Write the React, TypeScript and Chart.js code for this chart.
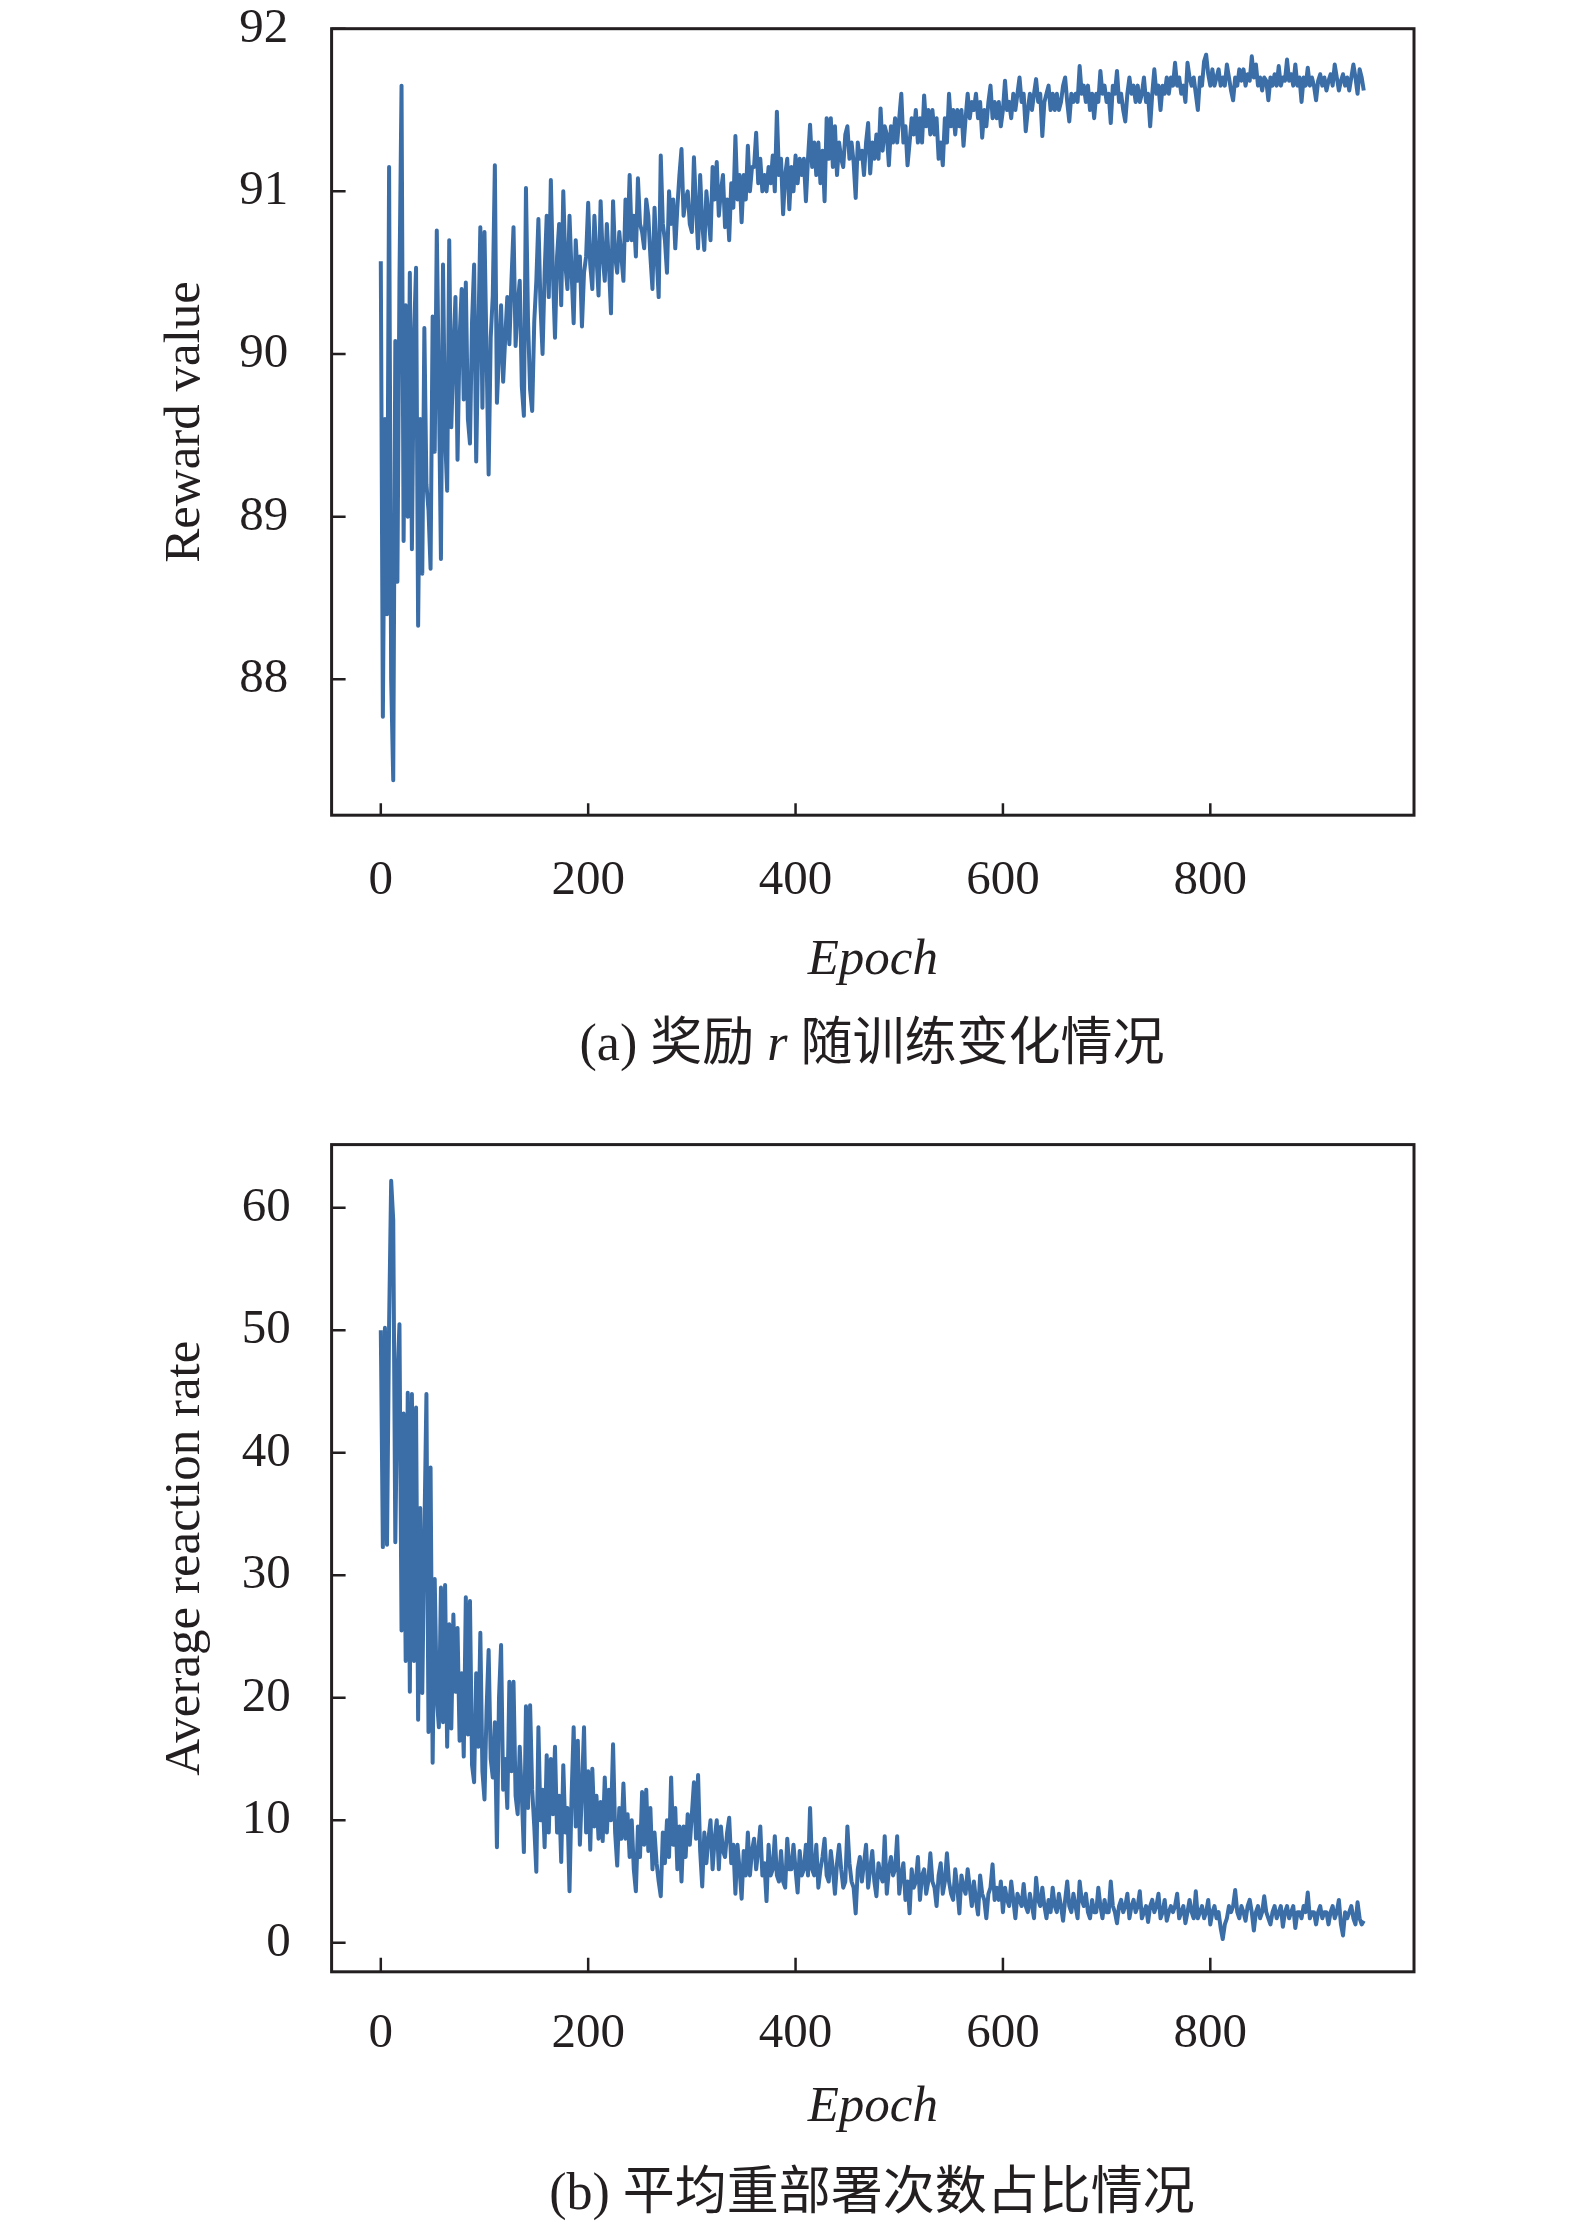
import React, { useEffect, useRef } from "react";
import { Chart, registerables } from "chart.js";

Chart.register(...registerables);

// ---------- data ----------
const EPOCH_STEP = 2; // one sampled value every 2 epochs (0 .. 948)

const epochTicks = [0, 200, 400, 600, 800];
const rewardTicks = [88, 89, 90, 91, 92];
const rateTicks = [0, 10, 20, 30, 40, 50, 60];

// (a) reward value, sampled every 2 epochs (each row = 20 epochs)
const rewardValues = [
  90.57, 87.77, 89.6, 88.4, 91.15, 88.0, 87.38, 90.08, 88.6, 90.45,
  91.65, 88.85, 90.3, 89.0, 90.5, 88.8, 90.1, 90.53, 88.33, 89.6,
  88.65, 90.16, 89.2, 89.04, 88.68, 90.23, 89.4, 90.76, 89.8, 88.74,
  90.55, 89.5, 89.16, 90.7, 89.55, 90.0, 90.35, 89.35, 90.1, 90.4,
  89.72, 90.44, 89.6, 89.45, 90.2, 90.55, 89.34, 90.1, 90.78, 89.67,
  90.75, 90.0, 89.26, 90.1, 90.36, 91.16, 89.7, 90.0, 90.3, 89.83,
  90.1, 90.35, 90.06, 90.45, 90.78, 90.05, 90.3, 90.45, 89.8, 89.62,
  91.02, 90.2, 89.78, 89.65, 90.2, 90.45, 90.83, 90.3, 90.0, 90.5,
  90.85, 90.35, 91.07, 90.5, 90.1, 90.6, 90.8, 90.3, 91.0, 90.55,
  90.4, 90.85, 90.5, 90.19, 90.7, 90.45, 90.6, 90.17, 90.5, 90.6,
  90.93, 90.55, 90.4, 90.85, 90.6, 90.36, 90.94, 90.6, 90.45, 90.8,
  90.55, 90.25, 90.94, 90.6, 90.5, 90.75, 90.6, 90.45, 90.95, 90.7,
  91.1, 90.7, 90.85, 90.6, 91.08, 90.8, 90.75, 90.65, 90.95, 90.85,
  90.6, 90.4, 90.9, 90.6, 90.35, 91.22, 90.8, 90.7, 90.5, 91.0,
  90.8, 90.95, 90.65, 90.9, 91.1, 91.26, 90.85, 90.95, 91.0, 90.8,
  90.75, 91.21, 90.9, 90.65, 91.1, 90.8, 90.64, 91.0, 90.85, 90.7,
  91.15, 90.95, 91.18, 90.85, 91.0, 91.1, 90.78, 90.95, 90.7, 91.05,
  90.9, 91.34, 90.95, 91.1, 90.81, 91.1, 90.95, 91.28, 91.0, 91.15,
  91.15, 91.36, 91.05, 91.2, 91.0, 91.1, 91.0, 91.15, 91.05, 91.22,
  91.0, 91.49, 91.1, 91.2, 90.86, 91.1, 91.2, 90.89, 91.15, 91.0,
  91.22, 91.05, 91.2, 91.1, 91.2, 90.94, 91.2, 91.41, 91.15, 91.3,
  91.1, 91.3, 91.05, 91.25, 90.94, 91.45, 91.2, 91.45, 91.15, 91.4,
  91.1, 91.3, 91.2, 91.15, 91.35, 91.4, 91.2, 91.3, 91.18, 90.96,
  91.3, 91.2, 91.25, 91.1, 91.3, 91.42, 91.11, 91.3, 91.2, 91.35,
  91.2, 91.51, 91.25, 91.4, 91.35, 91.16, 91.4, 91.3, 91.45, 91.3,
  91.45, 91.6, 91.3, 91.4, 91.16, 91.3, 91.45, 91.35, 91.5, 91.3,
  91.45, 91.3, 91.59, 91.4, 91.5, 91.35, 91.5, 91.35, 91.45, 91.2,
  91.3, 91.16, 91.45, 91.3, 91.6, 91.4, 91.5, 91.35, 91.5, 91.4,
  91.5, 91.28, 91.45, 91.6, 91.45, 91.55, 91.5, 91.6, 91.45, 91.55,
  91.33, 91.5, 91.4, 91.55, 91.65, 91.45, 91.55, 91.45, 91.55, 91.4,
  91.5, 91.68, 91.5, 91.55, 91.45, 91.6, 91.5, 91.6, 91.7, 91.55,
  91.6, 91.37, 91.5, 91.6, 91.5, 91.6, 91.69, 91.55, 91.6, 91.34,
  91.55, 91.6, 91.65, 91.5, 91.6, 91.5, 91.6, 91.5, 91.55, 91.65,
  91.7, 91.55, 91.43, 91.6, 91.55, 91.6, 91.55, 91.77, 91.6, 91.65,
  91.55, 91.65, 91.5, 91.6, 91.45, 91.6, 91.55, 91.74, 91.6, 91.65,
  91.55, 91.6, 91.42, 91.65, 91.6, 91.74, 91.55, 91.6, 91.5, 91.43,
  91.6, 91.7, 91.6, 91.65, 91.55, 91.65, 91.55, 91.6, 91.7, 91.55,
  91.6, 91.4, 91.6, 91.75, 91.6, 91.65, 91.5, 91.65, 91.6, 91.7,
  91.6, 91.7, 91.65, 91.79, 91.65, 91.7, 91.6, 91.65, 91.55, 91.79,
  91.7, 91.65, 91.7, 91.6, 91.5, 91.7, 91.65, 91.8, 91.84, 91.72,
  91.65, 91.75, 91.65, 91.7, 91.75, 91.65, 91.7, 91.65, 91.78, 91.7,
  91.62, 91.56, 91.7, 91.65, 91.75, 91.68, 91.75, 91.65, 91.72, 91.68,
  91.83, 91.7, 91.78, 91.65, 91.7, 91.62, 91.7, 91.68, 91.56, 91.7,
  91.65, 91.72, 91.65, 91.77, 91.65, 91.7, 91.68, 91.81, 91.68, 91.72,
  91.65, 91.78, 91.65, 91.7, 91.55, 91.7, 91.65, 91.76, 91.65, 91.7,
  91.65, 91.56, 91.68, 91.72, 91.65, 91.7, 91.62, 91.68, 91.72, 91.65,
  91.78, 91.7, 91.62, 91.68, 91.72, 91.65, 91.7, 91.62, 91.7, 91.78,
  91.7, 91.6, 91.75, 91.7, 91.62,
];

// (b) average reaction rate, sampled every 2 epochs (each row = 20 epochs)
const rateValues = [
  50.0, 32.3, 50.2, 32.5, 50.5, 62.2, 59.0, 32.7, 46.0, 50.5,
  25.5, 43.2, 23.0, 44.9, 20.5, 44.8, 23.0, 43.7, 18.2, 35.5,
  20.4, 33.2, 44.8, 17.2, 38.8, 14.7, 29.7, 20.0, 17.6, 29.0,
  18.0, 29.2, 16.0, 26.0, 17.5, 26.8, 20.5, 25.7, 16.5, 22.0,
  15.2, 28.2, 17.0, 27.9, 14.5, 13.1, 22.0, 16.0, 25.3, 14.0,
  11.7, 19.0, 23.9, 15.0, 13.5, 18.0, 7.8, 20.0, 24.3, 12.5,
  15.0, 11.0, 21.3, 14.0, 21.3, 12.0, 10.5, 16.0, 12.0, 7.4,
  19.3, 11.0, 19.4, 12.5, 9.5, 5.8, 17.6, 10.0, 12.5, 7.8,
  15.3, 9.0, 15.0, 10.5, 16.0, 9.0, 12.0, 6.6, 14.5, 9.0,
  11.0, 4.2, 12.0, 17.6, 9.5, 16.5, 8.0, 12.5, 17.6, 9.0,
  14.0, 7.6, 14.2, 9.5, 12.0, 8.5, 11.5, 8.3, 13.5, 9.0,
  12.5, 10.0, 16.2, 9.0, 6.3, 11.0, 8.5, 13.0, 8.5, 10.5,
  7.0, 10.0, 6.0, 4.2, 9.5, 7.0, 12.3, 8.0, 12.5, 7.5,
  11.0, 6.0, 9.0, 6.5, 5.0, 3.8, 9.0, 6.5, 10.0, 7.0,
  13.5, 8.0, 11.0, 6.0, 9.5, 5.0, 9.5, 7.0, 10.5, 8.0,
  10.5, 13.1, 8.5, 13.7, 7.5, 4.6, 9.0, 6.5, 8.5, 10.0,
  6.0, 8.5, 10.0, 6.0, 9.5, 7.5, 7.0, 9.0, 10.2, 6.5,
  8.0, 4.0, 8.0, 6.0, 3.6, 7.5, 5.5, 9.0, 5.5, 7.5,
  8.5, 6.0, 7.5, 9.5, 5.5, 6.5, 3.4, 8.0, 5.5, 6.0,
  8.7, 5.5, 5.0, 7.5, 5.0, 4.5, 8.5, 6.0, 6.0, 8.0,
  6.0, 4.1, 7.5, 5.5, 6.0, 8.0, 5.5, 11.0, 6.0, 5.5,
  8.0, 4.5, 6.0, 7.0, 8.5, 5.5, 5.0, 7.5, 6.0, 4.0,
  6.5, 8.0, 6.0, 4.5, 5.0, 9.5, 6.5, 5.0, 4.5, 2.4,
  6.0, 7.0, 5.0, 6.5, 8.0, 4.5, 6.0, 7.5, 5.0, 3.8,
  6.5, 5.5, 5.0, 8.7, 4.0, 6.0, 7.0, 5.5, 6.0, 8.7,
  4.0, 5.5, 6.5, 3.5, 5.0, 2.4, 6.0, 4.5, 5.0, 7.0,
  3.5, 5.5, 6.0, 4.0, 5.0, 7.3, 5.0, 4.5, 3.0, 5.5,
  6.5, 4.0, 5.0, 7.3, 5.0, 4.0, 3.5, 6.0, 4.5, 2.4,
  5.5, 4.5, 4.0, 6.0, 4.5, 3.0, 5.0, 3.5, 2.3, 5.5,
  4.0, 3.5, 2.0, 4.0, 4.5, 6.4, 3.5, 4.5, 3.5, 5.0,
  2.5, 4.5, 3.5, 3.0, 5.0, 3.5, 2.0, 4.0, 3.5, 3.0,
  4.8, 3.0, 2.5, 4.0, 3.0, 2.0, 5.3, 3.5, 3.0, 4.5,
  3.0, 2.0, 3.5, 2.5, 4.5, 3.0, 2.5, 4.0, 3.0, 1.8,
  3.5, 5.0, 3.0, 2.5, 4.0, 3.0, 2.0, 5.0, 3.5, 3.0,
  4.0, 2.5, 2.0, 3.5, 2.5, 2.5, 4.5, 3.0, 2.0, 3.5,
  2.5, 2.5, 5.0, 3.0, 2.5, 1.6, 3.0, 3.5, 2.5, 3.0,
  4.0, 2.0, 3.0, 3.5, 2.5, 3.0, 4.2, 2.0, 2.5, 3.0,
  1.7, 3.0, 3.5, 2.5, 3.0, 4.0, 2.0, 2.5, 3.5, 1.8,
  2.5, 3.0, 2.5, 3.0, 4.0, 2.0, 2.5, 3.0, 1.6, 2.5,
  3.5, 2.5, 2.0, 4.2, 2.0, 2.5, 3.0, 2.0, 2.5, 3.5,
  1.5, 2.5, 3.0, 2.0, 2.5, 1.2, 0.3, 1.5, 2.0, 3.0,
  2.5, 3.0, 4.3, 2.5, 2.0, 3.0, 2.5, 1.8, 3.0, 3.5,
  2.5, 1.0, 2.5, 3.0, 2.0, 2.5, 3.8, 2.5, 2.0, 1.5,
  2.5, 3.0, 2.0, 2.5, 3.0, 1.3, 2.5, 3.0, 2.0, 2.5,
  3.0, 1.2, 2.5, 2.5, 2.0, 3.0, 2.5, 4.1, 2.0, 2.5,
  2.5, 1.5, 2.5, 3.0, 2.0, 2.5, 2.5, 1.5, 2.5, 3.0,
  2.0, 2.5, 3.5, 1.5, 0.6, 2.5, 2.0, 2.5, 3.0, 2.0,
  1.5, 3.3, 2.0, 1.5, 1.8,
];

const rewardEpochs = rewardValues.map((_, i) => i * EPOCH_STEP);
const rateEpochs = rateValues.map((_, i) => i * EPOCH_STEP);

// ---------- styling ----------
const INK = "#231f20";
const LINE = "#3b6ea7";
const PAGE_W = 1575;
const LATIN = "'Liberation Serif', 'Times New Roman', serif";
const CAPTION_FONT = "'Liberation Serif', 'Noto Sans CJK SC', serif";

const framePlugin = {
  id: "frame",
  afterDatasetsDraw(chart: any, _args: any, opts: any) {
    const { ctx, chartArea: a, scales } = chart;
    ctx.save();
    ctx.strokeStyle = INK;
    ctx.lineWidth = 3;
    ctx.strokeRect(a.left, a.top, a.right - a.left, a.bottom - a.top);
    ctx.lineWidth = 2.5;
    ctx.beginPath();
    for (const t of scales.y.ticks) {
      const y = scales.y.getPixelForValue(t.value);
      ctx.moveTo(a.left, y);
      ctx.lineTo(a.left + opts.yTickLen, y);
    }
    for (const t of scales.x.ticks) {
      const x = scales.x.getPixelForValue(t.value);
      ctx.moveTo(x, a.bottom);
      ctx.lineTo(x, a.bottom - opts.xTickLen);
    }
    ctx.stroke();
    ctx.restore();
  },
};

type PanelProps = {
  epochs: number[];
  values: number[];
  yTicks: number[];
  yMin: number;
  yMax: number;
  yTitle: string;
  canvasTop: number;
  canvasHeight: number;
  padTop: number;
  padBottom: number;
  xAxisHeight: number;
  xLabelPad: number;
  yLabelPad: number;
  xTickLen: number;
};

function Panel(p: PanelProps) {
  const ref = useRef<HTMLCanvasElement>(null);

  useEffect(() => {
    const tickFont = { family: LATIN, size: 49, lineHeight: 1 };
    const titleFont = { family: LATIN, size: 51, lineHeight: 1.2 };
    const chart = new Chart(ref.current as HTMLCanvasElement, {
      type: "line",
      data: {
        datasets: [
          {
            data: p.epochs.map((e, i) => ({ x: e, y: p.values[i] })),
            borderColor: LINE,
            borderWidth: 4,
            borderJoinStyle: "round",
            pointRadius: 0,
            tension: 0,
            fill: false,
          },
        ],
      },
      options: {
        animation: false,
        responsive: false,
        devicePixelRatio: 1,
        events: [],
        layout: {
          autoPadding: false,
          padding: { top: p.padTop, right: PAGE_W - 1414, bottom: p.padBottom, left: 0 },
        },
        plugins: {
          legend: { display: false },
          tooltip: { enabled: false },
          frame: { yTickLen: 14, xTickLen: p.xTickLen },
        } as any,
        scales: {
          x: {
            type: "linear",
            min: -47.45,
            max: 996.45,
            afterBuildTicks: (s: any) => {
              s.ticks = epochTicks.map((v) => ({ value: v }));
            },
            afterFit: (s: any) => {
              s.height = p.xAxisHeight;
              s.paddingLeft = 0;
              s.paddingRight = 0;
              s.paddingTop = 0;
              s.paddingBottom = 0;
            },
            grid: { display: false, drawTicks: false },
            border: { display: false },
            ticks: {
              font: tickFont,
              color: INK,
              padding: p.xLabelPad,
              maxRotation: 0,
              autoSkip: false,
            },
            title: {
              display: true,
              text: "Epoch",
              color: INK,
              font: { ...titleFont, style: "italic" },
              padding: { top: 0, bottom: 0 },
            },
          },
          y: {
            type: "linear",
            min: p.yMin,
            max: p.yMax,
            afterBuildTicks: (s: any) => {
              s.ticks = p.yTicks.map((v) => ({ value: v }));
            },
            afterFit: (s: any) => {
              s.width = 331.6;
              s.paddingLeft = 0;
              s.paddingRight = 0;
              s.paddingTop = 0;
              s.paddingBottom = 0;
            },
            grid: { display: false, drawTicks: false },
            border: { display: false },
            ticks: { font: tickFont, color: INK, padding: p.yLabelPad, autoSkip: false },
            title: {
              display: true,
              text: p.yTitle,
              color: INK,
              font: titleFont,
              padding: { top: 155, bottom: 0 },
            },
          },
        },
      } as any,
      plugins: [framePlugin],
    });
    return () => chart.destroy();
  }, []);

  return (
    <canvas
      ref={ref}
      width={PAGE_W}
      height={p.canvasHeight}
      style={{ position: "absolute", left: 0, top: p.canvasTop, width: PAGE_W, height: p.canvasHeight }}
    />
  );
}

function Caption(props: { top: number; size: number; children: React.ReactNode }) {
  return (
    <div
      style={{
        position: "absolute",
        left: 372,
        width: 1000,
        top: props.top,
        textAlign: "center",
        fontFamily: CAPTION_FONT,
        fontSize: props.size,
        lineHeight: 1,
        color: INK,
        whiteSpace: "nowrap",
      }}
    >
      {props.children}
    </div>
  );
}

export default function App() {
  return (
    <div
      style={{
        position: "absolute",
        left: 0,
        top: 0,
        width: PAGE_W,
        height: 2221,
        background: "#ffffff",
        overflow: "hidden",
      }}
    >
      <Panel
        epochs={rewardEpochs}
        values={rewardValues}
        yTicks={rewardTicks}
        yMin={87.165}
        yMax={92}
        yTitle="Reward value"
        canvasTop={0}
        canvasHeight={1000}
        padTop={28.7}
        padBottom={8.6}
        xAxisHeight={176.2}
        xLabelPad={41}
        yLabelPad={43.3}
        xTickLen={12}
      />
      <Caption top={1017} size={52}>
        (a) 奖励 <i>r</i> 随训练变化情况
      </Caption>
      <Panel
        epochs={rateEpochs}
        values={rateValues}
        yTicks={rateTicks}
        yMin={-2.37}
        yMax={65.16}
        yTitle="Average reaction rate"
        canvasTop={1100}
        canvasHeight={1050}
        padTop={44.6}
        padBottom={12.3}
        xAxisHeight={165.9}
        xLabelPad={37.7}
        yLabelPad={40.8}
        xTickLen={14}
      />
      <Caption top={2166} size={52}>
        (b) 平均重部署次数占比情况
      </Caption>
    </div>
  );
}
